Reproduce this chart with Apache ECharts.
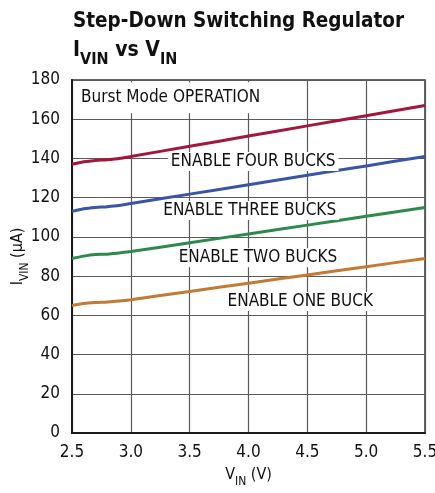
<!DOCTYPE html>
<html><head><meta charset="utf-8">
<script src="https://cdn.jsdelivr.net/npm/echarts@6/dist/echarts.min.js"></script>
<style>html,body{margin:0;padding:0;background:#fff}#c{width:435px;height:493px}</style>
</head><body><div id="c"></div>
<script>
const vin = [2.5, 2.6, 2.7, 2.8, 2.9, 3.0, 3.5, 4.0, 4.5, 5.0, 5.5];
const fourBucks  = [137, 138.3, 139, 139.3, 140, 141, 146.2, 151.4, 156.6, 161.8, 167];
const threeBucks = [113, 114.3, 115, 115.4, 116, 117, 121.8, 126.6, 131.4, 136.2, 141];
const twoBucks   = [89, 90.2, 91, 91.2, 91.8, 92.5, 97, 101.5, 106, 110.5, 115];
const oneBuck    = [65, 66, 66.5, 66.8, 67.3, 68, 72.2, 76.4, 80.6, 84.8, 89];
const seriesNames = ['ENABLE FOUR BUCKS', 'ENABLE THREE BUCKS', 'ENABLE TWO BUCKS', 'ENABLE ONE BUCK'];
const seriesColors = ['#a3173c', '#3a55a6', '#2e8a4b', '#c27a36'];
const noteTexts = ['Burst Mode OPERATION', 'ENABLE FOUR BUCKS', 'ENABLE THREE BUCKS', 'ENABLE TWO BUCKS', 'ENABLE ONE BUCK'];
const noteX = [2.56, 4.04, 4.01, 4.08, 4.44];
const noteY = [171, 138.4, 113.4, 89.4, 67];
const xTicks = [2.5, 3.0, 3.5, 4.0, 4.5, 5.0, 5.5];
const yTicks = [0, 20, 40, 60, 80, 100, 120, 140, 160, 180];

const FONT = '"DejaVu Sans Condensed", "Liberation Sans", sans-serif';
const chart = echarts.init(document.getElementById('c'), null, {renderer: 'canvas'});
const allSeries = [fourBucks, threeBucks, twoBucks, oneBuck];

const lineSeries = allSeries.map((vals, i) => ({
  name: seriesNames[i],
  type: 'line',
  data: vin.map((x, j) => [x, vals[j]]),
  showSymbol: false,
  smooth: 0.3,
  lineStyle: {color: seriesColors[i], width: 3},
  z: 3
}));

const noteSeries = {
  type: 'scatter',
  symbolSize: 0,
  z: 10,
  silent: true,
  itemStyle: {opacity: 1},
  data: noteTexts.map((t, i) => ({
    value: [noteX[i], noteY[i]],
    label: {
      show: true,
      formatter: t,
      position: i === 0 ? 'right' : 'inside',
      distance: 0,
      align: i === 0 ? 'left' : 'center',
      verticalAlign: 'middle',
      fontFamily: FONT,
      fontSize: 17,
      color: '#111',
      opacity: 1,
      textBorderWidth: 0,
      backgroundColor: '#fff',
      padding: i === 0 ? [7, 6, 7, 2] : [1, 3, 1, 3]
    }
  }))
};

chart.setOption({
  animation: false,
  backgroundColor: '#fff',
  title: {
    left: 68, top: 3,
    text: '{t|Step-Down Switching Regulator}\n{b|I}{s|VIN}{b| vs V}{s|IN}',
    textStyle: {
      rich: {
        t: {fontFamily: FONT, fontWeight: 'bold', fontSize: 20.5, color: '#111', lineHeight: 27},
        b: {fontFamily: FONT, fontWeight: 'bold', fontSize: 21, color: '#111', lineHeight: 26, verticalAlign: 'bottom'},
        s: {fontFamily: FONT, fontWeight: 'bold', fontSize: 16, color: '#111', lineHeight: 20, verticalAlign: 'bottom', padding: [0, 0, -7, 0]}
      }
    }
  },
  grid: {left: 72, right: 10, top: 80, bottom: 60, outerBoundsMode: 'none', containLabel: false,
    show: true, borderColor: '#333', borderWidth: 1.5},
  xAxis: {
    type: 'value', min: 2.5, max: 5.5, interval: 0.5,
    name: '{b|V}{s|IN}{b| (V)}',
    nameLocation: 'middle', nameGap: 34, nameMoveOverlap: false,
    nameTextStyle: {rich: {
      b: {fontFamily: FONT, fontSize: 16, color: '#111', verticalAlign: 'bottom'},
      s: {fontFamily: FONT, fontSize: 12, color: '#111', verticalAlign: 'bottom', padding: [0, 0, -5, 0]}
    }},
    axisLine: {show: true, lineStyle: {color: '#1a1a1a', width: 2}},
    axisTick: {show: false},
    axisLabel: {fontFamily: FONT, fontSize: 17, color: '#111', margin: 11,
      formatter: v => xTicks.includes(v) ? v.toFixed(1) : ''},
    splitLine: {show: true, lineStyle: {color: '#5a5a5a', width: 1.2}}
  },
  yAxis: {
    type: 'value', min: 0, max: 180, interval: 20,
    name: '{b|I}{s|VIN}{b| (µA)}',
    nameLocation: 'middle', nameGap: 46, nameRotate: 90, nameMoveOverlap: false,
    nameTextStyle: {rich: {
      b: {fontFamily: FONT, fontSize: 16, color: '#111', verticalAlign: 'bottom'},
      s: {fontFamily: FONT, fontSize: 12, color: '#111', verticalAlign: 'bottom', padding: [0, 0, -5, 0]}
    }},
    axisLine: {show: true, lineStyle: {color: '#1a1a1a', width: 2}},
    axisTick: {show: false},
    axisLabel: {fontFamily: FONT, fontSize: 17, color: '#111', margin: 12,
      formatter: v => yTicks.includes(v) ? String(v) : ''},
    splitLine: {show: true, lineStyle: {color: '#5a5a5a', width: 1.2}}
  },
  series: [...lineSeries, noteSeries]
});
</script>
</body></html>
